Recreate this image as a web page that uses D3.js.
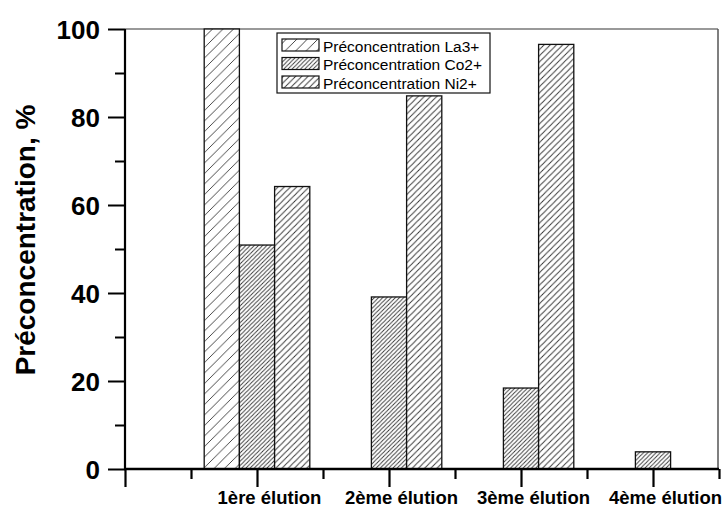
<!DOCTYPE html>
<html><head><meta charset="utf-8">
<script src="https://cdn.jsdelivr.net/npm/d3@7/dist/d3.min.js"></script>
<style>body{margin:0;background:#fff}svg{display:block}svg text{font-family:Arial,"Liberation Sans",Helvetica,sans-serif !important}</style>
</head><body><svg id="c" width="724" height="509"></svg>
<script>
const categories = ["1ère élution","2ème élution","3ème élution","4ème élution"];
const seriesNames = ["Préconcentration La3+","Préconcentration Co2+","Préconcentration Ni2+"];
const la = [100, 0, 0, 0];
const co = [50.9, 39.1, 18.4, 3.9];
const ni = [64.2, 84.8, 96.5, 0];
const yTicks = [0,20,40,60,80,100];
const yMinor = [10,30,50,70,90];

const FONT = 'Arial, "Liberation Sans", Helvetica, sans-serif';
const svg = d3.select("#c");
const L=125, R=718, T=29, B=469;
const x = d3.scaleLinear().domain([0,4.5]).range([L,R+1]);
const y = d3.scaleLinear().domain([0,100]).range([B,T]);

// patterns
const defs = svg.append("defs");
const pats = [{id:"pLa",s:10.5},{id:"pCo",s:4.2},{id:"pNi",s:6.2}];
pats.forEach(p=>{
  const pt = defs.append("pattern").attr("id",p.id).attr("patternUnits","userSpaceOnUse")
    .attr("width",p.s).attr("height",p.s);
  pt.append("rect").attr("width",p.s).attr("height",p.s).attr("fill","#fff");
  [[0,p.s,p.s,0],[-1,1,1,-1],[p.s-1,p.s+1,p.s+1,p.s-1]].forEach(c=>{
    pt.append("line").attr("x1",c[0]).attr("y1",c[1]).attr("x2",c[2]).attr("y2",c[3])
      .attr("stroke","#333").attr("stroke-width",0.9);
  });
});

// frame top/right
svg.append("line").attr("x1",L).attr("x2",R).attr("y1",T).attr("y2",T).attr("stroke","#777").attr("stroke-width",1.5);
svg.append("line").attr("x1",R).attr("x2",R).attr("y1",T).attr("y2",B).attr("stroke","#555").attr("stroke-width",1.5);

// bars
const series=[la,co,ni];
const bw = 0.8/3;
series.forEach((vals,j)=>{
  svg.append("g").selectAll("rect").data(vals.map((v,i)=>({v,i})).filter(d=>d.v>0)).join("rect")
    .attr("x",d=>x(d.i+1+(j-1.5)*bw))
    .attr("width",d=>x(bw)-x(0))
    .attr("y",d=>y(d.v))
    .attr("height",d=>y(0)-y(d.v))
    .attr("fill",`url(#${pats[j].id})`)
    .attr("stroke","#111").attr("stroke-width",1.3);
});

// y axis
const ya = svg.append("g").attr("transform",`translate(${L},0)`);
ya.call(d3.axisLeft(y).tickValues(yTicks).tickSize(17).tickPadding(8).tickFormat(d3.format("d")));
ya.append("g").call(d3.axisLeft(y).tickValues(yMinor).tickSize(10).tickFormat(""));
ya.selectAll(".domain").remove();
ya.attr("font-family",FONT);
ya.selectAll("line").attr("stroke","#000").attr("stroke-width",2);
ya.selectAll("text").attr("font-family",FONT).attr("font-size",26).attr("font-weight","bold").attr("fill","#000").attr("dy","0.35em");
svg.append("line").attr("x1",L).attr("x2",L).attr("y1",T).attr("y2",B+1).attr("stroke","#000").attr("stroke-width",2.2);

// x axis
const xa = svg.append("g").attr("transform",`translate(0,${B})`);
xa.call(d3.axisBottom(x).tickValues([0,1,2,3,4]).tickSize(18).tickPadding(4).tickFormat(d=>d===0?"":categories[d-1]));
xa.append("g").call(d3.axisBottom(x).tickValues([0.5,1.5,2.5,3.5,4.5]).tickSize(10).tickFormat(""));
xa.selectAll(".domain").remove();
xa.attr("font-family",FONT);
xa.selectAll("line").attr("stroke","#000").attr("stroke-width",2.2);
xa.selectAll("text").attr("font-family",FONT).attr("font-size",18.5).attr("font-weight","bold").attr("fill","#000").attr("dy",0).attr("y",35).attr("dx",12);
svg.append("line").attr("x1",L-1).attr("x2",R+1).attr("y1",B).attr("y2",B).attr("stroke","#000").attr("stroke-width",2.4);

// y title
svg.append("text").attr("transform","translate(35,240) rotate(-90)").attr("text-anchor","middle")
  .attr("font-family",FONT).attr("font-size",28).attr("font-weight","bold").text("Préconcentration, %");

// legend
const lg = svg.append("g");
lg.append("rect").attr("x",277).attr("y",33).attr("width",213).attr("height",60)
  .attr("fill","#fff").attr("stroke","#111").attr("stroke-width",1.2);
seriesNames.forEach((n,j)=>{
  const yy = 39 + j*18.5;
  lg.append("rect").attr("x",282).attr("y",yy).attr("width",37).attr("height",12)
    .attr("fill",`url(#${pats[j].id})`).attr("stroke","#111").attr("stroke-width",1.2);
  lg.append("text").attr("x",323).attr("y",yy+12.5).attr("font-family",FONT).attr("font-size",15.5).text(n);
});
</script></body></html>
